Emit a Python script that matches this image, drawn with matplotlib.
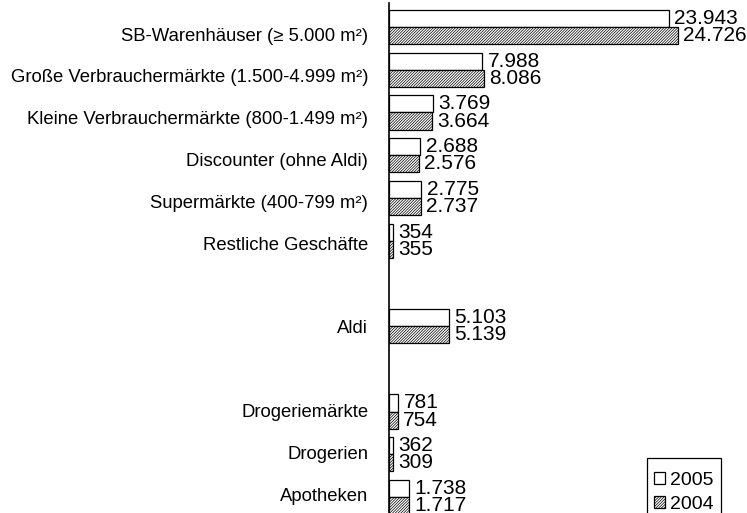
import matplotlib.pyplot as plt
import numpy as np

plt.rcParams['font.family'] = ['Liberation Sans', 'DejaVu Sans']
plt.rcParams['hatch.linewidth'] = 0.5

categories = ['SB-Warenhäuser (≥ 5.000 m²)', 'Große Verbrauchermärkte (1.500-4.999 m²)',
              'Kleine Verbrauchermärkte (800-1.499 m²)', 'Discounter (ohne Aldi)',
              'Supermärkte (400-799 m²)', 'Restliche Geschäfte', 'Aldi',
              'Drogeriemärkte', 'Drogerien', 'Apotheken']
slots = [0, 1, 2, 3, 4, 5, 7, 9, 10, 11]
values_2005 = [23943, 7988, 3769, 2688, 2775, 354, 5103, 781, 362, 1738]
values_2004 = [24726, 8086, 3664, 2576, 2737, 355, 5139, 754, 309, 1717]

def fmt(v):
    return f'{v:,}'.replace(',', '.')

fig = plt.figure(figsize=(7.47, 5.13), dpi=100)
ax = fig.add_axes([389 / 747, 0, (747 - 389) / 747, 1 - 3 / 513])

y = np.array(slots, dtype=float)
h = 0.4
b05 = ax.barh(y - h / 2, values_2005, height=h, color='white', edgecolor='black', linewidth=0.9, label='2005')
b04 = ax.barh(y + h / 2, values_2004, height=h, color='white', edgecolor='black', linewidth=0.9,
              hatch='/' * 12, label='2004')

for yy, v in zip(y - h / 2, values_2005):
    ax.text(v + 450, yy, fmt(v), va='center', ha='left', fontsize=15)
for yy, v in zip(y + h / 2, values_2004):
    ax.text(v + 450, yy, fmt(v), va='center', ha='left', fontsize=15)

ax.set_xlim(0, 30630)
ax.set_ylim(11.375, -0.562)
# category labels sit on a slightly tighter grid than the bars
ax.set_yticks(y * 0.979 + 0.164)
ax.set_yticklabels(categories, fontsize=13.3)
ax.tick_params(axis='y', length=0, pad=15)
ax.set_xticks([])
for s in ['top', 'right', 'bottom']:
    ax.spines[s].set_visible(False)
ax.spines['left'].set_linewidth(1.2)

# legend without its own frame, box drawn separately (runs off the bottom edge)
leg = fig.legend(handles=[b05, b04], loc='upper left', bbox_to_anchor=(647 / 747, 1 - 465 / 513),
                 fontsize=14, frameon=False,
                 handlelength=0.6, handleheight=0.6, handletextpad=0.25,
                 borderpad=0.35, labelspacing=0.35, borderaxespad=0)
box = plt.Rectangle((647 / 747, -0.01), 74 / 747, (513 - 458) / 513 + 0.01,
                    transform=fig.transFigure, fill=False, edgecolor='black', linewidth=0.9)
fig.patches.append(box)

fig.savefig('out.png', dpi=100)
